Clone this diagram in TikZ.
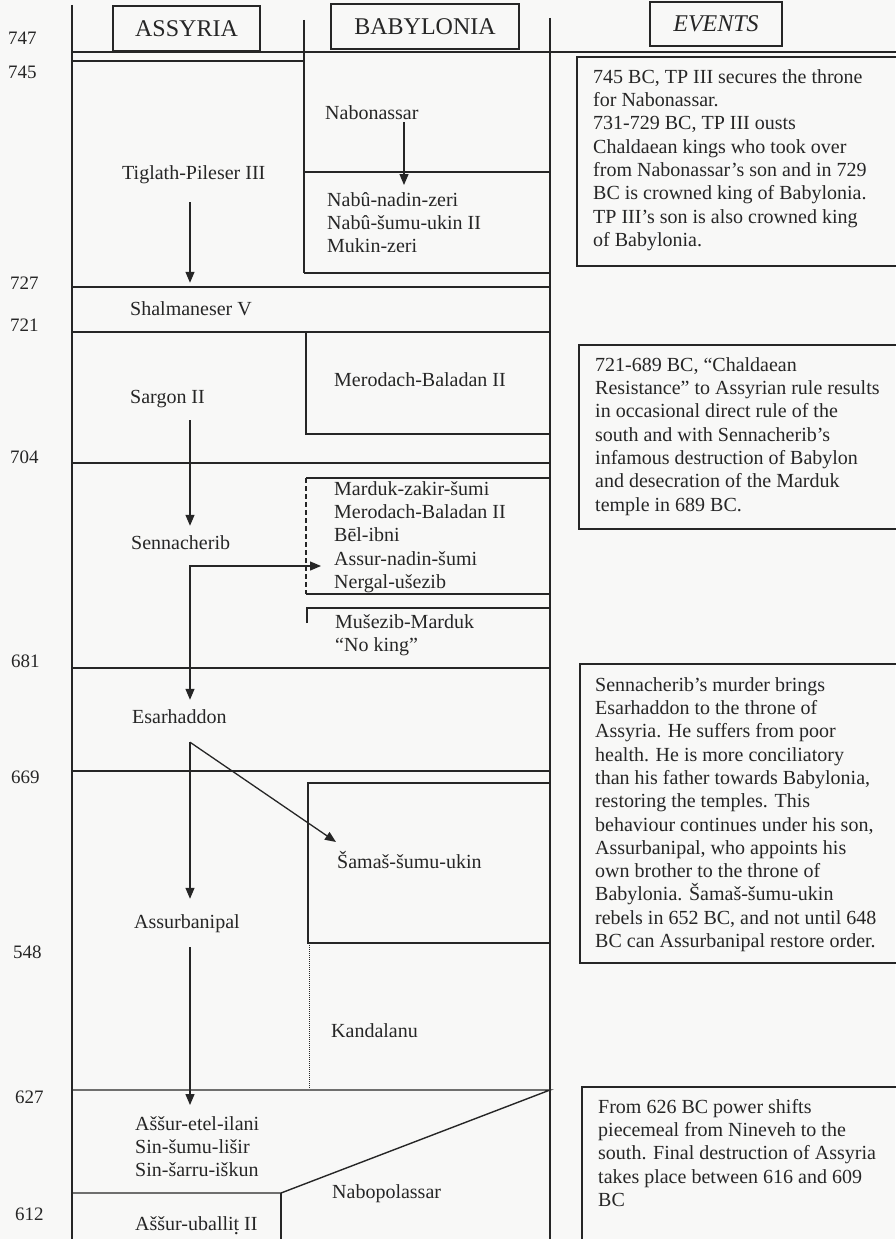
\documentclass[tikz,border=0pt]{standalone}
\usepackage{fontspec}
\setmainfont{Liberation Serif}
\usetikzlibrary{arrows.meta,calc}
\definecolor{ink}{HTML}{262626}
\definecolor{paper}{HTML}{F8F8F7}
% t with a dot below (for Aššur-uballiṭ)
\newcommand{\dotunder}[1]{\leavevmode\ooalign{#1\cr\hidewidth\raisebox{-0.5ex}{.}\hidewidth\cr}}
% fixed height for the first line of multi-line blocks
\newcommand{\firstline}{\rule{0pt}{16pt}}

\begin{document}
\begin{tikzpicture}[x=1pt,y=-1pt,
  rl/.style={draw=ink, line width=1.4pt},
  hdr/.style={draw=ink, line width=1.4pt, inner sep=0pt, text=ink,
    font=\fontsize{24pt}{28pt}\selectfont},
  lbl/.style={inner sep=0pt, anchor=base west, text=ink,
    font=\fontsize{20pt}{23.3pt}\selectfont, text height=14pt, text depth=4.5pt},
  lst/.style={inner sep=0pt, anchor=north west, align=left, text=ink,
    font=\fontsize{20pt}{23.3pt}\selectfont},
  yr/.style={inner sep=0pt, anchor=base west, text=ink,
    font=\fontsize{19pt}{22pt}\selectfont},
  arr/.style={draw=ink, line width=1.3pt, -{Triangle[length=11pt,width=9pt]}},
  arrboth/.style={draw=ink, line width=1.3pt,
    {Triangle[length=11pt,width=9pt]}-{Triangle[length=11pt,width=9pt]}},
]
\useasboundingbox (0,0) rectangle (895,1239);
\fill[paper] (0,0) rectangle (895,1239);

% ---------- column headings ----------
\node[hdr, minimum width=147pt, minimum height=45pt] (hAss) at (186.5,28.5) {ASSYRIA\hspace{10pt}};
\node[hdr, minimum width=188pt, minimum height=45pt] (hBab) at (425,26.5) {BABYLONIA};
\node[hdr, minimum width=132pt, minimum height=44pt] (hEv) at (716,24) {\itshape EVENTS};

% ---------- frame of the table ----------
\draw[rl] (72,5) -- (72,1242);
\draw[rl] (550,18) -- (550,1242);
\draw[rl] (304,20) -- (304,273);
\draw[rl] (72,52) -- (898,52);
\draw[rl] (72,61) -- (304,61);
\draw[rl] (304,172) -- (550,172);
\draw[rl] (304,273) -- (550,273);
\draw[rl] (72,287) -- (550,287);
\draw[rl] (72,332) -- (550,332);
\draw[rl] (306,332) -- (306,434) -- (550,434);
\draw[rl] (72,463) -- (550,463);
\draw[rl] (306,478) -- (550,478);
\draw[draw=ink, line width=1.2pt, dash pattern=on 5pt off 3pt] (306,478) -- (306,594);
\draw[rl] (306,594) -- (550,594);
\draw[rl] (307,623) -- (307,608) -- (550,608);
\draw[rl] (72,668) -- (550,668);
\draw[rl] (72,771) -- (550,771);
\draw[rl] (550,783) -- (308,783) -- (308,943) -- (550,943);
\draw[draw=ink, line width=1pt, dash pattern=on 1pt off 1pt] (309,943) -- (309,1088);
\draw[rl, line join=miter] (72,1090) -- (550,1090) -- (281,1193) -- (72,1193);
\draw[rl] (281,1193) -- (281,1242);

% ---------- years ----------
\node[yr] (y747) at (8,45) {747};
\node[yr] (y745) at (8,78) {745};
\node[yr] (y727) at (10,289) {727};
\node[yr] (y721) at (10,331) {721};
\node[yr] (y704) at (10,463) {704};
\node[yr] (y681) at (11,667) {681};
\node[yr] (y669) at (11,783) {669};
\node[yr] (y548) at (13,958) {548};
\node[yr] (y627) at (15,1103) {627};
\node[yr] (y612) at (15,1220) {612};

% ---------- Assyrian kings ----------
\node[lbl] (tp)     at (122,179) {Tiglath-Pileser III};
\node[lbl] (shal)   at (130,315) {Shalmaneser V};
\node[lbl] (sargon) at (130,403) {Sargon II};
\node[lbl] (senn)   at (131,549) {Sennacherib};
\node[lbl] (esar)   at (132,723) {Esarhaddon};
\node[lbl] (assurb) at (134,928) {Assurbanipal};
\node[lst] (late)   at (135,1114) {\firstline Aššur-etel-ilani\\Sin-šumu-lišir\\Sin-šarru-iškun};
\node[lbl, text depth=3pt] (uball) at (135,1230) {Aššur-uballi\dotunder{t} II};

% ---------- Babylonian kings ----------
\node[lbl] (nab)    at (325,119) {Nabonassar};
\node[lst] (nabu)   at (327,190) {\firstline Nabû-nadin-zeri\\Nabû-šumu-ukin II\\Mukin-zeri};
\node[lbl] (mbal)   at (334,386) {Merodach-Baladan II};
\node[lst] (mlist)  at (334,479) {\firstline Marduk-zakir-šumi\\Merodach-Baladan II\\Bēl-ibni\\Assur-nadin-šumi\\Nergal-ušezib};
\node[lst] (musez)  at (335,612) {\firstline Mušezib-Marduk\\“No king”};
\node[lbl] (samas)  at (337,868) {Šamaš-šumu-ukin};
\node[lbl] (kand)   at (331,1037) {Kandalanu};
\node[lbl] (nabop)  at (332,1198) {Nabopolassar};

% ---------- successions ----------
\coordinate (colA) at (190,0);
\coordinate (colB) at (404,0);
\draw[arr] ($(tp.south -| colA)+(0,18.5)$) -- ($(shal.north -| colA)+(0,-18)$);
\draw[arr] ($(nab.south -| colB)+(0,-1.5)$) -- ($(nabu.north -| colB)+(0,-5)$);
\draw[arr] ($(sargon.south -| colA)+(0,12.5)$) -- ($(senn.north -| colA)+(0,-9)$);
\draw[arrboth] ($(mlist.north west)+(-13,87)$) -| ($(esar.north -| colA)+(0,-9)$);
\draw[arr] ($(esar.south -| colA)+(0,14.5)$) -- ($(assurb.north -| colA)+(0,-15)$);
\draw[arr] ($(esar.south -| colA)+(0,14.5)$) -- ($(samas.base west)+(-1,-26)$);
\draw[arr] ($(assurb.south -| colA)+(0,14.5)$) -- ($(late.north -| colA)+(0,-9)$);

% ---------- events ----------
\draw[rl] (898,57) -- (577,57) -- (577,266) -- (898,266);
\draw[rl] (898,345) -- (579,345) -- (579,529) -- (898,529);
\draw[rl] (898,664) -- (580,664) -- (580,963) -- (898,963);
\draw[rl] (898,1087) -- (582,1087) -- (582,1242);

\node[lst] (ev1) at (593,67) {\firstline 745 BC, TP III secures the throne\\
for Nabonassar.\\
731-729 BC, TP III ousts\\
Chaldaean kings who took over\\
from Nabonassar’s son and in 729\\
BC is crowned king of Babylonia.\\
TP III’s son is also crowned king\\
of Babylonia.};

\node[lst] (ev2) at (595,355) {\firstline 721-689 BC, “Chaldaean\\
Resistance” to Assyrian rule results\\
in occasional direct rule of the\\
south and with Sennacherib’s\\
infamous destruction of Babylon\\
and desecration of the Marduk\\
temple in 689 BC.};

\node[lst] (ev3) at (595,675) {\firstline Sennacherib’s murder brings\\
Esarhaddon to the throne of\\
Assyria. He suffers from poor\\
health. He is more conciliatory\\
than his father towards Babylonia,\\
restoring the temples. This\\
behaviour continues under his son,\\
Assurbanipal, who appoints his\\
own brother to the throne of\\
Babylonia. Šamaš-šumu-ukin\\
rebels in 652 BC, and not until 648\\
BC can Assurbanipal restore order.};

\node[lst] (ev4) at (598,1097) {\firstline From 626 BC power shifts\\
piecemeal from Nineveh to the\\
south. Final destruction of Assyria\\
takes place between 616 and 609\\
BC};
\end{tikzpicture}
\end{document}
